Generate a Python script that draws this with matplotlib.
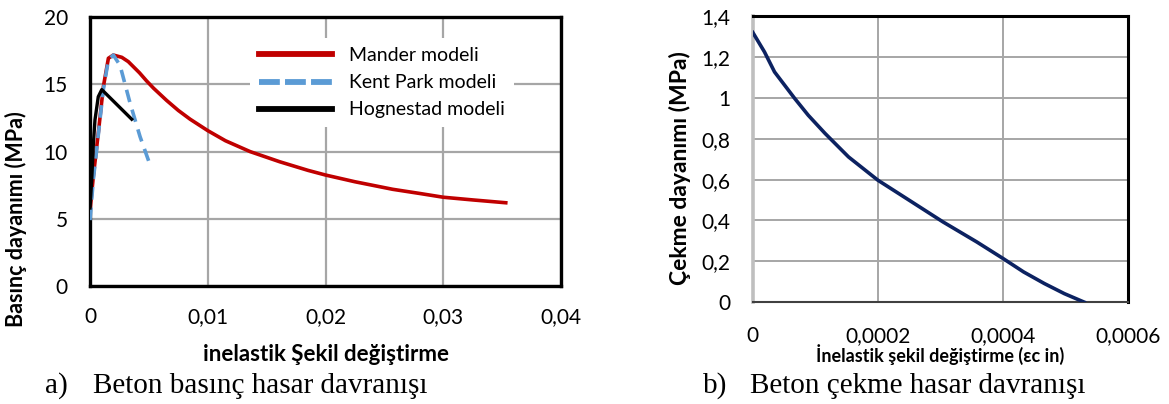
import matplotlib.pyplot as plt

# --------------------------------------------------
# DATA
# --------------------------------------------------
mander_x = [0.0, 0.00028, 0.0007, 0.00113, 0.00156, 0.00198, 0.0027, 0.00325, 0.0042,
            0.0048, 0.0054, 0.0065, 0.0075, 0.0085, 0.010, 0.0115, 0.0136, 0.0161,
            0.0185, 0.020, 0.0225, 0.0257, 0.028, 0.030, 0.0325, 0.0353]
mander_y = [5.6, 8.13, 11.35, 14.8, 16.93, 17.17, 17.0, 16.68, 15.85,
            15.25, 14.7, 13.8, 13.05, 12.4, 11.55, 10.8, 9.99, 9.24,
            8.6, 8.25, 7.75, 7.19, 6.88, 6.6, 6.4, 6.19]

kent_x = [0.0, 0.00028, 0.0007, 0.00113, 0.00156, 0.00198, 0.00255, 0.0034, 0.00425, 0.0051]
kent_y = [4.9, 7.9, 11.2, 14.6, 16.8, 17.17, 16.4, 13.6, 11.1, 9.0]

hog_x = [0.0, 0.00015, 0.00028, 0.00042, 0.0007, 0.0010, 0.00354]
hog_y = [5.8, 8.0, 10.5, 12.34, 14.07, 14.6, 12.4]

tens_x = [0.0, 0.0000186, 0.0000347, 0.000067, 0.0000886, 0.0001155, 0.000153,
          0.0002, 0.00025, 0.000304, 0.000331, 0.000358, 0.0004, 0.000433,
          0.000466, 0.000498, 0.00053]
tens_y = [1.32, 1.225, 1.127, 0.997, 0.915, 0.826, 0.711,
          0.597, 0.499, 0.393, 0.344, 0.295, 0.214, 0.148,
          0.0915, 0.042, 0.0]

a_xticks = [0, 0.01, 0.02, 0.03, 0.04]
a_xlabels = ["0", "0,01", "0,02", "0,03", "0,04"]
a_yticks = [0, 5, 10, 15, 20]
a_ylabels = ["0", "5", "10", "15", "20"]

b_xticks = [0, 0.0002, 0.0004, 0.0006]
b_xlabels = ["0", "0,0002", "0,0004", "0,0006"]
b_yticks = [0, 0.2, 0.4, 0.6, 0.8, 1.0, 1.2, 1.4]
b_ylabels = ["0", "0,2", "0,4", "0,6", "0,8", "1", "1,2", "1,4"]

# --------------------------------------------------
# STYLE
# --------------------------------------------------
plt.rcParams["font.family"] = ["Lato", "DejaVu Sans"]
GRID = "#A6A6A6"
TICK_FS = 15
CAP_FS = 21
SERIF = "Liberation Serif"

fig = plt.figure(figsize=(11.69, 4.04), dpi=100)

# --------------------------------------------------
# a) compression
# --------------------------------------------------
ax1 = fig.add_axes([0.077, 0.292, 0.403, 0.666])
ax1.plot(mander_x, mander_y, color="#C00000", lw=2.6, label="Mander modeli", zorder=3)
ax1.plot(kent_x, kent_y, color="#5B9BD5", lw=2.6, ls=(0, (3.5, 2.2)), label="Kent Park modeli", zorder=4)
ax1.plot(hog_x, hog_y, color="black", lw=2.4, label="Hognestad modeli", zorder=5)

ax1.set_xlim(0, 0.04)
ax1.set_ylim(0, 20)
ax1.set_xticks(a_xticks)
ax1.set_xticklabels(a_xlabels)
ax1.set_yticks(a_yticks)
ax1.set_yticklabels(a_ylabels)
ax1.tick_params(length=0, labelsize=TICK_FS)
ax1.tick_params(axis="x", pad=15)
ax1.tick_params(axis="y", pad=16)
ax1.grid(True, color=GRID, lw=1.6)
ax1.set_axisbelow(True)
for s in ax1.spines.values():
    s.set_linewidth(2.4)
    s.set_color("black")

ax1.set_xlabel("inelastik Şekil değiştirme", fontsize=16, fontweight="bold", labelpad=12)
ax1.set_ylabel("Basınç dayanımı (MPa)", fontsize=15.5, fontweight="bold")
ax1.yaxis.set_label_coords(-0.133, 0.25)

leg = ax1.legend(loc="upper left", bbox_to_anchor=(0.34, 0.92), frameon=True,
                 facecolor="white", edgecolor="none", framealpha=1,
                 fontsize=14, handlelength=3.75, handletextpad=0.9,
                 labelspacing=0.52, borderpad=0.45, borderaxespad=0)
leg.get_frame().set_linewidth(0)
for h in leg.legend_handles:
    h.set_linewidth(4.2)
# three even dashes in the Kent Park key, like the original
leg.legend_handles[1].set_linestyle((0, (3.57, 0.89)))

# --------------------------------------------------
# b) tension
# --------------------------------------------------
ax2 = fig.add_axes([0.644, 0.252, 0.321, 0.708])
ax2.plot(tens_x, tens_y, color="#0C2261", lw=2.6, zorder=3)

ax2.set_xlim(0, 0.0006)
ax2.set_ylim(0, 1.4)
ax2.set_xticks(b_xticks)
ax2.set_xticklabels(b_xlabels)
ax2.set_yticks(b_yticks)
ax2.set_yticklabels(b_ylabels)
ax2.tick_params(length=0, labelsize=TICK_FS)
ax2.tick_params(axis="x", pad=17)
ax2.tick_params(axis="y", pad=16)
ax2.grid(True, color=GRID, lw=1.4)
ax2.set_axisbelow(True)
ax2.spines["top"].set_linewidth(2.2)
ax2.spines["right"].set_linewidth(2.2)
ax2.spines["left"].set_linewidth(2.6)
ax2.spines["left"].set_color("#BFBFBF")
ax2.spines["bottom"].set_linewidth(1.5)
ax2.spines["bottom"].set_color("#404040")

ax2.set_xlabel("İnelastik şekil değiştirme (εc in)", fontsize=13, fontweight="bold", labelpad=-1)
ax2.set_ylabel("Çekme dayanımı (MPa)", fontsize=16.5, fontweight="bold")
ax2.yaxis.set_label_coords(-0.165, 0.47)

# --------------------------------------------------
# CAPTIONS
# --------------------------------------------------
cap_y = 1 - 386 / 404
fig.text(45 / 1169, cap_y, "a)", fontsize=CAP_FS, family=SERIF, va="center")
fig.text(93 / 1169, cap_y, "Beton basınç hasar davranışı", fontsize=CAP_FS, family=SERIF, va="center")
fig.text(703 / 1169, cap_y, "b)", fontsize=CAP_FS, family=SERIF, va="center")
fig.text(750 / 1169, cap_y, "Beton çekme hasar davranışı", fontsize=CAP_FS, family=SERIF, va="center")

fig.savefig("out.png", dpi=100)
